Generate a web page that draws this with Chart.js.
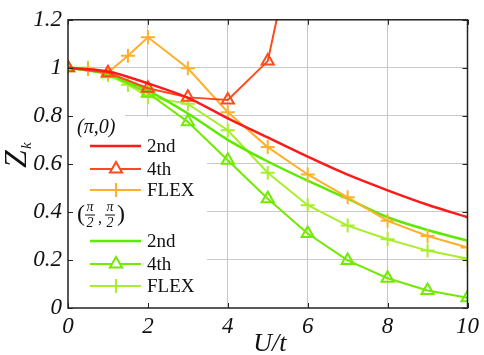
<!DOCTYPE html>
<html>
<head>
<meta charset="utf-8">
<script src="https://cdn.jsdelivr.net/npm/chart.js@4.4.0/dist/chart.umd.min.js"></script>
<style>
  html, body { margin: 0; padding: 0; background: #fff; }
  #wrap { width: 484px; height: 355px; }
</style>
</head>
<body>
<div id="wrap"><canvas id="zChart" width="484" height="355"></canvas></div>
<script>
// valores
const xSmooth = [0, 1, 2, 3, 4, 5, 6, 7, 8, 9, 10];
const piZero2nd = [1.0, 0.985, 0.935, 0.875, 0.79, 0.71, 0.63, 0.555, 0.49, 0.43, 0.378];
const halfPi2nd = [1.0, 0.975, 0.905, 0.81, 0.70, 0.61, 0.53, 0.455, 0.378, 0.325, 0.28];

const x4thPiZero = [0, 1, 2, 3, 4, 5, 6];
const piZero4th = [1.0, 0.98, 0.915, 0.877, 0.866, 1.028, 1.8];

const x4thHalfPi = [0, 1, 2, 3, 4, 5, 6, 7, 8, 9, 10];
const halfPi4th = [1.0, 0.975, 0.895, 0.775, 0.615, 0.455, 0.31, 0.198, 0.124, 0.073, 0.043];

const xFlex = [0, 0.5, 1, 1.5, 2, 3, 4, 5, 6, 7, 8, 9, 10];
const piZeroFlex = [1.0, 0.995, 0.98, 1.05, 1.127, 0.998, 0.815, 0.67, 0.556, 0.461, 0.363, 0.30, 0.252];
const halfPiFlex = [1.0, 1.0, 0.97, 0.93, 0.88, 0.85, 0.74, 0.563, 0.428, 0.343, 0.286, 0.239, 0.205];

const xTicks = [0, 2, 4, 6, 8, 10];
const yTicks = [0, 0.2, 0.4, 0.6, 0.8, 1.0, 1.2];

const cores = {
  red2: '#ff1a1a', red4: '#ff4a1c', orange: '#ffb02a',
  green2: '#5eea00', green4: '#72ea00', lime: '#a8ee2a'
};

function pts(xs, ys) { return xs.map((x, i) => ({ x: x, y: ys[i] })); }

const serif = "'Liberation Serif', 'Times New Roman', serif";

// moldura, ticks para dentro, legenda, rótulos
const estiloMatlab = {
  id: 'estiloMatlab',
  beforeDatasetsDraw(chart) {
    const ctx = chart.ctx, a = chart.chartArea;
    // fundo branco da legenda
    ctx.save();
    ctx.fillStyle = '#fff';
    ctx.fillRect(a.left + 1, 104, 56, 14);
    ctx.fillRect(a.left + 1, 117, 138, a.bottom - 118);
    ctx.restore();
  },
  afterDatasetsDraw(chart) {
    const ctx = chart.ctx, a = chart.chartArea;
    const sx = chart.scales.x, sy = chart.scales.y;
    ctx.save();
    ctx.strokeStyle = '#222';
    ctx.lineWidth = 1.5;
    ctx.strokeRect(a.left, a.top, a.right - a.left, a.bottom - a.top);
    ctx.lineWidth = 1;
    xTicks.forEach(v => {
      const px = Math.round(sx.getPixelForValue(v)) + 0.5;
      ctx.beginPath();
      ctx.moveTo(px, a.bottom); ctx.lineTo(px, a.bottom - 5);
      ctx.moveTo(px, a.top); ctx.lineTo(px, a.top + 5);
      ctx.stroke();
    });
    yTicks.forEach(v => {
      const py = Math.round(sy.getPixelForValue(v)) + 0.5;
      ctx.beginPath();
      ctx.moveTo(a.left, py); ctx.lineTo(a.left + 5, py);
      ctx.moveTo(a.right, py); ctx.lineTo(a.right - 5, py);
      ctx.stroke();
    });

    // legenda
    const ds = chart.data.datasets;
    ctx.fillStyle = '#111';
    ctx.textBaseline = 'middle';
    ctx.font = 'italic 20px ' + serif;
    ctx.fillText('(π,0)', 77, 128);

    // (π/2, π/2)
    const ty = 215;
    ctx.font = '24px ' + serif;
    ctx.fillText('(', 77, ty);
    ctx.font = 'italic 14px ' + serif;
    ctx.textAlign = 'center';
    ctx.fillText('π', 90, ty - 8);
    ctx.fillText('2', 90, ty + 8);
    ctx.fillText('π', 110, ty - 8);
    ctx.fillText('2', 110, ty + 8);
    ctx.textAlign = 'left';
    ctx.fillRect(85, ty - 0.5, 10, 1);
    ctx.fillRect(105, ty - 0.5, 10, 1);
    ctx.font = '16px ' + serif;
    ctx.fillText(',', 98, ty + 4);
    ctx.font = '24px ' + serif;
    ctx.fillText(')', 117, ty);

    const linhas = [
      { label: '(π,0) 2nd', y: 146, nome: '2nd' },
      { label: '(π,0) 4th', y: 169, nome: '4th' },
      { label: '(π,0) FLEX', y: 190, nome: 'FLEX' },
      { label: '(π/2,π/2) 2nd', y: 241, nome: '2nd' },
      { label: '(π/2,π/2) 4th', y: 264, nome: '4th' },
      { label: '(π/2,π/2) FLEX', y: 286, nome: 'FLEX' }
    ];
    linhas.forEach(l => {
      const d = ds.find(s => s.label === l.label);
      ctx.strokeStyle = d.borderColor;
      ctx.lineWidth = d.borderWidth;
      ctx.beginPath();
      ctx.moveTo(90, l.y); ctx.lineTo(141, l.y);
      ctx.stroke();
      if (d.pointRadius > 0) {
        const r = d.pointRadius, cx = 116;
        ctx.lineWidth = d.pointBorderWidth;
        ctx.beginPath();
        if (d.pointStyle === 'triangle') {
          ctx.moveTo(cx, l.y - r);
          ctx.lineTo(cx + r * 0.866, l.y + r * 0.5);
          ctx.lineTo(cx - r * 0.866, l.y + r * 0.5);
          ctx.closePath();
          ctx.fillStyle = '#fff';
          ctx.fill();
        } else {
          ctx.moveTo(cx - r, l.y); ctx.lineTo(cx + r, l.y);
          ctx.moveTo(cx, l.y - r); ctx.lineTo(cx, l.y + r);
        }
        ctx.stroke();
      }
      ctx.fillStyle = '#111';
      ctx.font = '19px ' + serif;
      ctx.fillText(l.nome, 147, l.y + 1);
    });

    // rótulo do eixo x
    ctx.font = 'italic 26px ' + serif;
    ctx.textAlign = 'center';
    ctx.textBaseline = 'alphabetic';
    ctx.fillText('U/t', (a.left + a.right) / 2 + 2, 351);

    // rótulo do eixo y
    ctx.translate(26, 158);
    ctx.rotate(-Math.PI / 2);
    ctx.textAlign = 'left';
    ctx.font = 'italic 32px ' + serif;
    ctx.fillText('Z', -10, 0);
    ctx.font = 'italic 15px ' + serif;
    ctx.fillText('k', 9, 5);
    ctx.restore();
  }
};

const gridCor = (lim) => (c) => (c.tick && lim.includes(c.tick.value)) ? 'rgba(0,0,0,0)' : '#c8c8c8';

new Chart(document.getElementById('zChart').getContext('2d'), {
  type: 'scatter',
  data: {
    datasets: [
      { label: '(π,0) 2nd', data: pts(xSmooth, piZero2nd), borderColor: cores.red2, showLine: true,
        borderWidth: 2.5, pointRadius: 0, cubicInterpolationMode: 'monotone' },
      { label: '(π,0) 4th', data: pts(x4thPiZero, piZero4th), borderColor: cores.red4, showLine: true,
        borderWidth: 2, pointStyle: 'triangle', pointRadius: 7, pointBorderWidth: 2,
        pointBackgroundColor: 'rgba(255,255,255,0)', pointBorderColor: cores.red4 },
      { label: '(π,0) FLEX', data: pts(xFlex, piZeroFlex), borderColor: cores.orange, showLine: true,
        borderWidth: 2, pointStyle: 'cross', pointRadius: 7, pointBorderWidth: 2,
        pointBorderColor: cores.orange },
      { label: '(π/2,π/2) 2nd', data: pts(xSmooth, halfPi2nd), borderColor: cores.green2, showLine: true,
        borderWidth: 2.5, pointRadius: 0, cubicInterpolationMode: 'monotone' },
      { label: '(π/2,π/2) 4th', data: pts(x4thHalfPi, halfPi4th), borderColor: cores.green4, showLine: true,
        borderWidth: 2, pointStyle: 'triangle', pointRadius: 7, pointBorderWidth: 2,
        pointBackgroundColor: 'rgba(255,255,255,0)', pointBorderColor: cores.green4 },
      { label: '(π/2,π/2) FLEX', data: pts(xFlex, halfPiFlex), borderColor: cores.lime, showLine: true,
        borderWidth: 2, pointStyle: 'cross', pointRadius: 7, pointBorderWidth: 2,
        pointBorderColor: cores.lime }
    ]
  },
  options: {
    responsive: false,
    animation: false,
    layout: { padding: { top: 11, right: 13, left: 0, bottom: 0 } },
    plugins: { legend: { display: false }, tooltip: { enabled: false } },
    scales: {
      x: {
        type: 'linear', min: 0, max: 10,
        afterBuildTicks: s => { s.ticks = xTicks.map(v => ({ value: v })); },
        afterFit: s => { s.height = 47; },
        grid: { color: gridCor([0, 10]), drawTicks: false, lineWidth: 1 },
        border: { display: false },
        ticks: { padding: 5, color: '#111', font: { family: serif, style: 'italic', size: 23 } }
      },
      y: {
        type: 'linear', min: 0, max: 1.2,
        afterBuildTicks: s => { s.ticks = yTicks.map(v => ({ value: v })); },
        afterFit: s => { s.width = 68; },
        grid: { color: gridCor([0, 1.2]), drawTicks: false, lineWidth: 1 },
        border: { display: false },
        ticks: { padding: 6, color: '#111', font: { family: serif, style: 'italic', size: 23 },
                 callback: v => String(+v.toFixed(1)) }
      }
    }
  },
  plugins: [estiloMatlab]
});
</script>
</body>
</html>
